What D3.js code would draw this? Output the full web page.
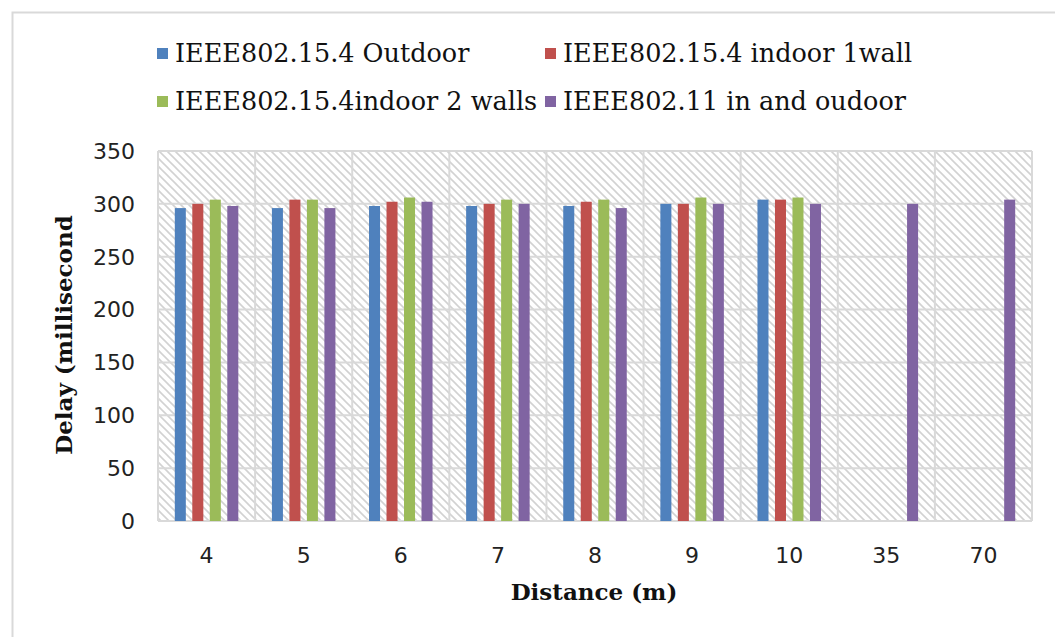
<!DOCTYPE html>
<html lang="en">

<head>
  <meta charset="UTF-8">
  <title>Delay vs Distance</title>
  <script src="https://d3js.org/d3.v7.min.js"></script>
  <style>
    body {
      margin: 0;
      background: #fff;
    }

    .tick-label {
      font-family: "DejaVu Sans", Verdana, sans-serif;
      font-size: 22px;
      fill: #222;
    }

    .legend-label {
      font-family: "DejaVu Serif", serif;
      font-size: 25.5px;
      fill: #111;
    }

    .axis-title {
      font-family: "DejaVu Serif", serif;
      font-size: 23px;
      font-weight: bold;
      fill: #111;
    }
  </style>
</head>

<body>
  <div id="chart"></div>

  <script>
    // Data
    const categories = ["4", "5", "6", "7", "8", "9", "10", "35", "70"];
    const seriesNames = [
      "IEEE802.15.4 Outdoor",
      "IEEE802.15.4 indoor 1wall",
      "IEEE802.15.4indoor 2 walls",
      "IEEE802.11 in and oudoor"
    ];
    const outdoor = [296, 296, 298, 298, 298, 300, 304, null, null];
    const indoor1wall = [300, 304, 302, 300, 302, 300, 304, null, null];
    const indoor2walls = [304, 304, 306, 304, 304, 306, 306, null, null];
    const wifi = [298, 296, 302, 300, 296, 300, 300, 300, 304];
    const yTicks = [0, 50, 100, 150, 200, 250, 300, 350];
    const colors = ["#4f81bd", "#c0504d", "#9bbb59", "#8064a2"];

    const seriesValues = [outdoor, indoor1wall, indoor2walls, wifi];

    const width = 1055, height = 637;
    const plot = { left: 158, right: 1032, top: 151, bottom: 521 };

    const svg = d3.select("#chart").append("svg")
      .attr("width", width)
      .attr("height", height);

    // hatch pattern for plot background
    const defs = svg.append("defs");
    const pat = defs.append("pattern")
      .attr("id", "hatch")
      .attr("patternUnits", "userSpaceOnUse")
      .attr("width", 8)
      .attr("height", 8);
    pat.append("rect").attr("width", 8).attr("height", 8).attr("fill", "#fff");
    pat.append("path")
      .attr("d", "M-2,-2 L10,10 M-2,6 L2,10 M6,-2 L10,2")
      .attr("stroke", "#d2d2d2")
      .attr("stroke-width", 1.6);

    // chart area border
    svg.append("rect")
      .attr("x", 12.5)
      .attr("y", 12.5)
      .attr("width", 1100)
      .attr("height", 700)
      .attr("fill", "none")
      .attr("stroke", "#d9d9d9")
      .attr("stroke-width", 2);

    const x = d3.scaleBand()
      .domain(categories)
      .range([plot.left, plot.right])
      .padding(0);

    const groupWidth = x.bandwidth() * 0.654;
    const xInner = d3.scaleBand()
      .domain(d3.range(seriesNames.length))
      .range([-groupWidth / 2, groupWidth / 2])
      .paddingInner(0.37)
      .paddingOuter(0);

    const y = d3.scaleLinear()
      .domain([0, 350])
      .range([plot.bottom, plot.top]);

    // background
    svg.append("rect")
      .attr("x", plot.left)
      .attr("y", plot.top)
      .attr("width", plot.right - plot.left)
      .attr("height", plot.bottom - plot.top)
      .attr("fill", "url(#hatch)");

    // gridlines
    svg.append("g")
      .selectAll("line")
      .data(yTicks)
      .join("line")
      .attr("x1", plot.left)
      .attr("x2", plot.right)
      .attr("y1", d => y(d))
      .attr("y2", d => y(d))
      .attr("stroke", "#d9d9d9")
      .attr("stroke-width", 2);

    svg.append("g")
      .selectAll("line")
      .data(categories.concat(["end"]))
      .join("line")
      .attr("x1", d => d === "end" ? plot.right : x(d))
      .attr("x2", d => d === "end" ? plot.right : x(d))
      .attr("y1", plot.top)
      .attr("y2", plot.bottom)
      .attr("stroke", "#d9d9d9")
      .attr("stroke-width", 2);

    // bars
    const barData = [];
    seriesValues.forEach((vals, s) => {
      vals.forEach((v, i) => {
        if (v !== null) barData.push({ s, cat: categories[i], v });
      });
    });

    svg.append("g")
      .selectAll("rect")
      .data(barData)
      .join("rect")
      .attr("x", d => x(d.cat) + x.bandwidth() / 2 + xInner(d.s))
      .attr("y", d => y(d.v))
      .attr("width", xInner.bandwidth())
      .attr("height", d => y(0) - y(d.v))
      .attr("fill", d => colors[d.s]);

    // y axis labels
    svg.append("g")
      .selectAll("text")
      .data(yTicks)
      .join("text")
      .attr("class", "tick-label")
      .attr("x", 135)
      .attr("y", d => y(d))
      .attr("dy", "0.36em")
      .attr("text-anchor", "end")
      .text(d => d);

    // x axis labels
    svg.append("g")
      .selectAll("text")
      .data(categories)
      .join("text")
      .attr("class", "tick-label")
      .attr("x", d => x(d) + x.bandwidth() / 2)
      .attr("y", 563)
      .attr("text-anchor", "middle")
      .text(d => d);

    // axis titles
    svg.append("text")
      .attr("class", "axis-title")
      .attr("x", 594)
      .attr("y", 600)
      .attr("text-anchor", "middle")
      .text("Distance (m)");

    svg.append("text")
      .attr("class", "axis-title")
      .attr("transform", "translate(72,335) rotate(-90)")
      .attr("text-anchor", "middle")
      .text("Delay (millisecond");

    // legend
    const legendPos = [
      { x: 157, y: 62 },
      { x: 545, y: 62 },
      { x: 157, y: 110 },
      { x: 545, y: 110 }
    ];

    const legend = svg.append("g")
      .selectAll("g")
      .data(seriesNames)
      .join("g")
      .attr("transform", (d, i) => `translate(${legendPos[i].x},${legendPos[i].y})`);

    legend.append("rect")
      .attr("x", 0)
      .attr("y", -14)
      .attr("width", 11)
      .attr("height", 11)
      .attr("fill", (d, i) => colors[i]);

    legend.append("text")
      .attr("class", "legend-label")
      .attr("x", 18)
      .attr("y", 0)
      .text(d => d);
  </script>
</body>

</html>
